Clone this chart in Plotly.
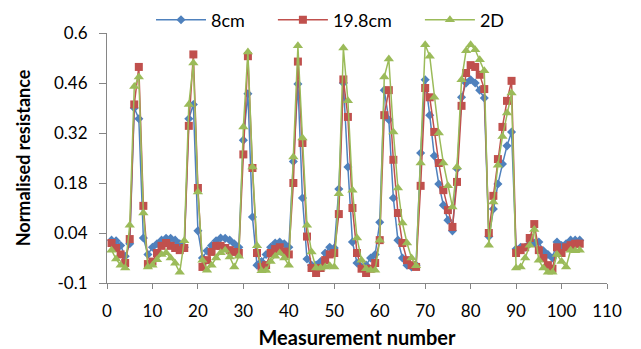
import plotly.graph_objects as go

measurement = list(range(1, 105))

s_8cm = [0.02, 0.018, 0.005, -0.025, 0.01, 0.39, 0.36, 0.026, -0.02, 0.0,
         0.01, 0.02, 0.025, 0.025, 0.02, 0.01, 0.0, 0.36, 0.40, 0.046,
         -0.03, -0.01, 0.005, 0.018, 0.026, 0.025, 0.02, 0.01, 0.0, 0.30,
         0.43, 0.085, -0.05, -0.04, -0.02, 0.0, 0.012, 0.015, 0.01, 0.0,
         0.24, 0.457, 0.138, -0.033, -0.05, -0.05, -0.04, -0.016, 0.0, -0.002,
         0.163, 0.46, 0.225, 0.015, -0.044, -0.055, -0.05, -0.03, -0.02, 0.07,
         0.44, 0.357, 0.138, 0.02, -0.03, -0.05, -0.055, -0.05, 0.264, 0.469,
         0.37, 0.256, 0.177, 0.118, 0.076, 0.046, 0.22, 0.42, 0.46, 0.469,
         0.46, 0.44, 0.418, 0.03, 0.107, 0.177, 0.233, 0.284, 0.323, -0.005,
         0.0, 0.0, 0.01, 0.012, 0.015, -0.01, -0.02, -0.03, 0.015, 0.005,
         0.01, 0.02, 0.02, 0.02]

s_198cm = [0.012, -0.002, -0.02, -0.044, 0.023, 0.40, 0.505, 0.116, -0.047, -0.04,
           -0.016, 0.004, 0.012, 0.004, -0.002, -0.008, -0.002, 0.34, 0.54, 0.166,
           -0.055, -0.036, -0.013, 0.004, 0.004, -0.002, -0.008, -0.013, -0.016, 0.26,
           0.535, 0.222, -0.016, -0.055, -0.05, -0.016, -0.005, 0.0, -0.012, -0.02,
           0.18, 0.52, 0.292, 0.03, -0.058, -0.072, -0.058, -0.036, -0.02, -0.016,
           0.093, 0.47, 0.365, 0.11, -0.016, -0.06, -0.072, -0.06, -0.044, 0.02,
           0.37, 0.44, 0.245, 0.096, 0.012, -0.036, -0.05, -0.055, 0.172, 0.446,
           0.42, 0.323, 0.236, 0.16, 0.104, 0.057, 0.183, 0.396, 0.488, 0.51,
           0.505, 0.483, 0.443, 0.04, 0.144, 0.247, 0.337, 0.41, 0.466, -0.016,
           -0.008, 0.0, 0.026, 0.065, -0.008, -0.03, -0.05, -0.06, 0.0, -0.016,
           0.0, 0.006, 0.01, 0.01]

s_2d = [-0.008, -0.033, -0.05, -0.058, 0.062, 0.45, 0.477, 0.096, -0.055, -0.05,
        -0.035, -0.02, -0.015, -0.03, -0.045, -0.07, 0.018, 0.40, 0.516, 0.155,
        -0.036, -0.064, -0.05, -0.03, -0.015, -0.008, -0.027, -0.055, -0.025, 0.337,
        0.547, 0.225, 0.004, -0.066, -0.065, -0.04, -0.025, -0.016, -0.03, -0.05,
        0.253, 0.564, 0.306, 0.062, -0.013, -0.058, -0.058, -0.055, -0.052, -0.055,
        0.15, 0.558, 0.41, 0.16, 0.026, -0.036, -0.06, -0.064, -0.064, 0.02,
        0.477, 0.527, 0.323, 0.166, 0.068, 0.012, -0.03, -0.052, 0.236, 0.567,
        0.535, 0.42, 0.32, 0.236, 0.172, 0.113, 0.225, 0.469, 0.55, 0.567,
        0.553, 0.525, 0.494, 0.006, 0.127, 0.23, 0.31, 0.376, 0.432, -0.058,
        -0.055, -0.03, 0.006, 0.05, -0.036, -0.058, -0.07, -0.07, -0.02, -0.04,
        -0.055, -0.008, -0.01, -0.008]

y_ticks = [-0.1, 0.04, 0.18, 0.32, 0.46, 0.6]
y_labels = ["-0.1", "0.04", "0.18", "0.32", "0.46", "0.6"]
x_ticks = list(range(0, 111, 10))

FONT = "Lato"
NB = "\u00a0"
fig = go.Figure()
series = [
    ("8cm" + NB * 5, s_8cm, "#4F81BD", "diamond", 7),
    ("19.8cm" + NB * 5, s_198cm, "#C0504D", "square", 8),
    ("2D", s_2d, "#9BBB59", "triangle-up", 9),
]
for name, ys, col, sym, sz in series:
    fig.add_trace(go.Scatter(
        x=measurement, y=ys, name=name, mode="lines+markers",
        line=dict(color=col, width=1.5),
        marker=dict(symbol=sym, size=sz, color=col),
    ))

fig.update_layout(
    width=641, height=349,
    margin=dict(l=107, r=34, t=33, b=66, autoexpand=False),
    paper_bgcolor="white", plot_bgcolor="white",
    font=dict(family=FONT, size=17, color="black"),
    showlegend=True,
    legend=dict(orientation="h", x=0.088, xanchor="left", y=1.052, yanchor="middle",
                font=dict(size=18), itemwidth=50, bgcolor="rgba(0,0,0,0)"),
    xaxis=dict(range=[0, 110], tickvals=x_ticks, showgrid=False, zeroline=False,
               showline=True, linecolor="#868686", linewidth=1,
               ticks="outside", ticklen=5, tickcolor="#868686", ticklabelstandoff=8,
               title=dict(text="<b>Measurement number</b>", font=dict(size=20), standoff=10)),
    yaxis=dict(range=[-0.1, 0.6], tickvals=y_ticks, ticktext=y_labels,
               showgrid=False, zeroline=False,
               showline=True, linecolor="#868686", linewidth=1,
               ticks="outside", ticklen=7, tickcolor="#868686", ticklabelstandoff=8,
               title=dict(text="<b>Normalised resistance</b>", font=dict(size=18), standoff=18)),
)

fig.write_html("out.html")
